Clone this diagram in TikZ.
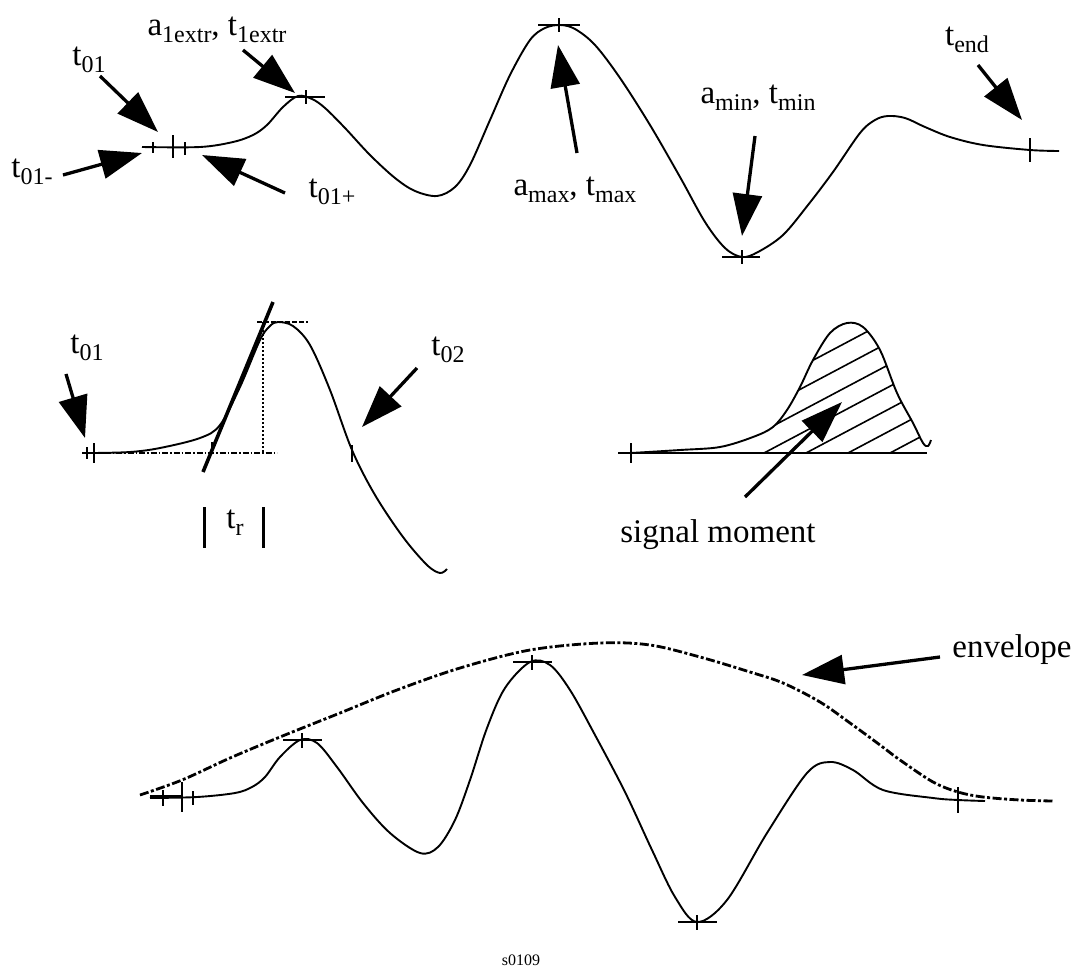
\documentclass[tikz,border=0pt]{standalone}
\usepackage{fontspec}
\setmainfont{Liberation Serif}
\usetikzlibrary{arrows.meta}
\newcommand{\lblsub}[2]{#1\raisebox{-0.2em}{\fontsize{24}{24}\selectfont #2}}
\begin{document}
\begin{tikzpicture}[x=1pt,y=-1pt,
  curve/.style={line width=1.9pt},
  tickmark/.style={line width=2.4pt},
  thintick/.style={line width=1.6pt},
  bigarrow/.style={line width=3.3pt,-{Triangle[length=42pt,width=29pt]}},
  lab/.style={font=\fontsize{33}{33}\selectfont, inner sep=0pt},
  dashdot/.style={line width=1.2pt, dash pattern=on 6pt off 2pt on 1.5pt off 2pt},
  envline/.style={line width=2.8pt, dash pattern=on 9pt off 2.5pt on 3pt off 2.5pt},
  hatchline/.style={line width=1.6pt}]
\useasboundingbox (0,0) rectangle (1079,978);

% ================= TOP SIGNAL =================
\draw[curve] plot[smooth,tension=0.55] coordinates {(142,147) (200,147) (233,142) (253,135) (267,125) (283,107) (298,96) (312,99) (325,108) (345,128) (370,155) (395,178) (415,191) (437,196) (455,187) (470,165) (490,120) (510,75) (530,40) (545,28) (560,25) (575,29) (595,45) (620,78) (650,125) (680,177) (705,222) (725,248) (742,257) (758,252) (783,235) (808,205) (833,172) (860,133) (875,120) (888,116) (905,118) (925,127) (950,137) (983,145) (1030,150) (1059,151)};
% ticks
\draw[tickmark] (153,142) -- (153,153);
\draw[tickmark] (173,135) -- (173,158);
\draw[tickmark] (185,142) -- (185,155);
\draw[thintick] (285,97) -- (325,97);
\draw[tickmark] (306,90) -- (306,104);
\draw[thintick] (538,25) -- (580,25);
\draw[tickmark] (559,18) -- (559,32);
\draw[thintick] (722,257) -- (760,257);
\draw[tickmark] (742,250) -- (742,264);
\draw[tickmark] (1030,138) -- (1030,162);

% labels and arrows
\node[lab] (lt01) at (89,60) {\lblsub{t}{01}};
\coordinate (s01) at (100,76); \coordinate (e01) at (158,132);
\draw[bigarrow] (s01) -- (e01);

\node[lab] (lt01m) at (32,172) {\lblsub{t}{01-}};
\coordinate (s01m) at (63,175); \coordinate (e01m) at (142,153);
\draw[bigarrow] (s01m) -- (e01m);

\node[lab] (lt01p) at (332,192) {\lblsub{t}{01+}};
\coordinate (s01p) at (285,193); \coordinate (e01p) at (202,155);
\draw[bigarrow] (s01p) -- (e01p);

\node[lab] (lext) at (217,30) {\lblsub{a}{1extr}, \lblsub{t}{1extr}};
\coordinate (sext) at (243,50); \coordinate (eext) at (295,93);
\draw[bigarrow] (sext) -- (eext);

\node[lab] (lmax) at (575,190) {\lblsub{a}{max}, \lblsub{t}{max}};
\coordinate (smax) at (577,153); \coordinate (emax) at (558,45);
\draw[bigarrow] (smax) -- (emax);

\node[lab] (lmin) at (758,98) {\lblsub{a}{min}, \lblsub{t}{min}};
\coordinate (smin) at (755,136); \coordinate (emin) at (742,236);
\draw[bigarrow] (smin) -- (emin);

\node[lab] (lend) at (967,40) {\lblsub{t}{end}};
\coordinate (send) at (978,65); \coordinate (eend) at (1022,120);
\draw[bigarrow] (send) -- (eend);

% ================= MIDDLE LEFT =================
\draw[dashdot] (93,453) -- (277,453);
\draw[line width=1.1pt, dash pattern=on 2pt off 2pt] (263,322) -- (263,453);
\draw[line width=1.2pt, dash pattern=on 5pt off 2pt] (257,322) -- (308,322);
\draw[curve] plot[smooth,tension=0.55] coordinates {(93,453) (130,452) (160,448) (200,438) (220,425) (240,387) (260,340) (270,326) (278,322) (293,326) (310,345) (330,390) (352,450) (375,495) (403,537) (427,565) (440,573) (447,569)};
\draw[thintick] (82,453) -- (93,453);
\draw[thintick] (87,447) -- (87,459);
\draw[tickmark] (94,443) -- (94,463);
\draw[thintick] (212,442) -- (212,452);
\draw[thintick] (352,445) -- (352,462);
\draw[line width=3.6pt] (203,472) -- (273,302);
\draw[line width=3pt] (204,507) -- (204,548);
\draw[line width=3pt] (263,507) -- (263,548);
\node[lab] (ltr) at (235,523) {\lblsub{t}{r}};

\node[lab] (lt01b) at (87,348) {\lblsub{t}{01}};
\coordinate (s01b) at (66,374); \coordinate (e01b) at (85,438);
\draw[bigarrow] (s01b) -- (e01b);

\node[lab] (lt02) at (448,350) {\lblsub{t}{02}};
\coordinate (s02) at (417,368); \coordinate (e02) at (362,427);
\draw[bigarrow] (s02) -- (e02);

% ================= MIDDLE RIGHT =================
\begin{scope}
  \clip (758,300) rectangle (940,460);
  \clip (631,453) -- plot[smooth,tension=0.55] coordinates {(631,453) (680,450) (720,447) (753,437) (773,427) (787,410) (800,387) (813,360) (830,333) (847,323) (863,327) (880,350) (897,393) (913,423) (923,443) (928,446)} -- (928,453) -- cycle;
  \foreach \c in {596,638,...,890} \draw[hatchline] (\c,453) -- ++(400,-212);
\end{scope}
\draw[curve] plot[smooth,tension=0.55] coordinates {(631,453) (680,450) (720,447) (753,437) (773,427) (787,410) (800,387) (813,360) (830,333) (847,323) (863,327) (880,350) (897,393) (913,423) (923,443) (928,446) (931,440)};
\draw[curve] (618,453) -- (927,453);
\draw[thintick] (631,443) -- (631,463);
\node[lab] (lsig) at (718,535) {signal moment};
\coordinate (ssig) at (745,497); \coordinate (esig) at (842,402);
\draw[bigarrow] (ssig) -- (esig);

% ================= BOTTOM =================
\draw[envline] plot[smooth,tension=0.55] coordinates {(140,795) (182,780) (230,758) (280,737) (340,713) (397,690) (460,668) (530,650) (600,643) (650,645) (700,657) (750,672) (783,683) (820,702) (850,723) (880,745) (900,760) (933,782) (958,792) (983,797) (1020,800) (1053,801)};
\draw[curve] plot[smooth,tension=0.55] coordinates {(150,798) (197,797) (235,793) (252,787) (265,777) (280,757) (300,740) (317,743) (337,767) (363,803) (390,833) (420,853) (438,847) (455,820) (470,780) (487,728) (505,688) (530,662) (550,665) (570,690) (595,735) (625,792) (652,850) (675,897) (697,922) (727,900) (767,833) (807,773) (830,762) (853,770) (883,790) (933,798) (958,800) (985,801)};
\draw[tickmark] (150,796) -- (182,796);
\draw[tickmark] (163,790) -- (163,806);
\draw[tickmark] (182,782) -- (182,812);
\draw[thintick] (193,791) -- (193,805);
\draw[thintick] (283,740) -- (322,740);
\draw[tickmark] (302,733) -- (302,748);
\draw[thintick] (513,662) -- (552,662);
\draw[tickmark] (532,655) -- (532,670);
\draw[thintick] (678,922) -- (717,922);
\draw[tickmark] (697,915) -- (697,930);
\draw[tickmark] (958,787) -- (958,813);

\node[lab] (lenv) at (1012,650) {envelope};
\coordinate (senv) at (940,657); \coordinate (eenv) at (802,675);
\draw[bigarrow] (senv) -- (eenv);

\node[font=\fontsize{16}{16}\selectfont, inner sep=0pt] (cap) at (521,960) {s0109};
\end{tikzpicture}
\end{document}
